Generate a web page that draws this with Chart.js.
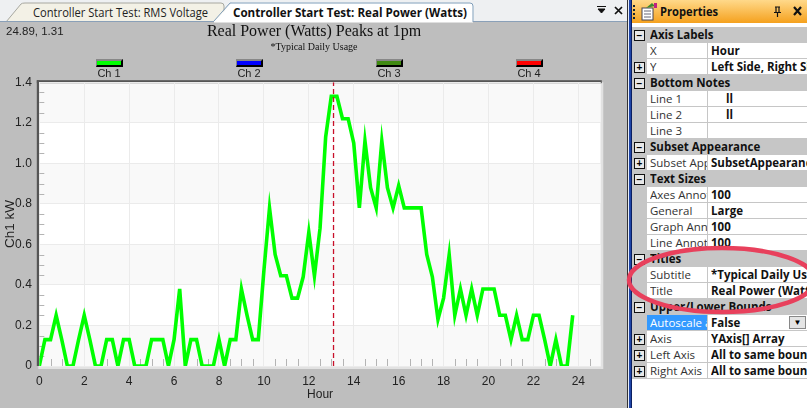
<!DOCTYPE html>
<html><head><meta charset="utf-8">
<script src="https://cdn.jsdelivr.net/npm/chart.js@4"></script>
<style>
html,body{margin:0;padding:0;width:807px;height:408px;overflow:hidden;background:#bebebe;font-family:"Open Sans",sans-serif}
.abs{position:absolute;white-space:nowrap}
#tabstrip{left:0;top:0;width:627px;height:22px;background:#eef0f2}
#chartwrap{position:absolute;left:0;top:22px;width:628px;height:386px}
.sw{position:absolute;top:59px;height:4px;width:24px;border:1px solid;border-color:#888 #000 #000 #888;border-width:2px 2px 2px 1px}
.lg{position:absolute;top:67px;font:11px "Liberation Sans";color:#222;text-align:center;width:40px}
.rowtxt{position:absolute;font-size:11.5px;line-height:16px;white-space:nowrap;overflow:hidden;color:#333}
.val{font-weight:700;color:#111}
.box{position:absolute;left:634px;width:9px;height:9px;border:1px solid #111;background:#e8e8e8;font:700 10px/9px "Liberation Sans";text-align:center;color:#000}
</style></head><body>
<div class="abs" id="tabstrip"></div>
<svg class="abs" style="left:0;top:0" width="627" height="23">
<path d="M6 22 L21 4 Q22 3 25 3 L221 3 Q224 3 224 6 L224 13 L214 22" fill="#f3f1e6" stroke="#a8a8a0"/>
<path d="M214 22 L232 3 L470 3 Q473 3 473 6 L473 22 Z" fill="#fff" stroke="#fff"/>
<path d="M214 21 L230 3 L470 3 Q473 3 473 6 L473 22" fill="none" stroke="#7f9db9"/>
<path d="M0 21.5 L214 21.5 M473 21.5 L627 21.5" stroke="#8aa0b8"/>
</svg>
<div class="abs" style="left:33px;top:4px;font-size:12px;line-height:17px;color:#222;transform:scaleX(.93);transform-origin:left">Controller Start Test: RMS Voltage</div>
<div class="abs" style="left:233px;top:4px;font-size:12px;line-height:17px;font-weight:700;color:#111;transform:scaleX(.967);transform-origin:left">Controller Start Test: Real Power (Watts)</div>
<svg class="abs" style="left:595px;top:5px" width="30" height="12">
<path d="M2 1.5h9M3 4h7l-3.5 4z" stroke="#111" fill="#111"/>
<path d="M20 2l7 7M27 2l-7 7" stroke="#111" stroke-width="1.7"/>
</svg>
<div id="chartwrap"><canvas id="c" width="628" height="386" style="width:628px;height:386px;display:block"></canvas></div>
<div class="abs" style="left:6px;top:24px;font:11.5px/14px 'Liberation Sans';color:#222">24.89, 1.31</div>
<div id="legend"></div>
<div class="abs" style="left:627px;top:0;width:1px;height:408px;background:#333"></div>
<div class="abs" style="left:628px;top:0;width:1px;height:408px;background:#e8eef8"></div>
<div class="abs" style="left:629px;top:0;width:2px;height:408px;background:#1f45a8"></div>
<div class="abs" style="left:631px;top:0;width:1px;height:408px;background:#0b1f60"></div>
<div class="abs" style="left:632px;top:0;width:175px;height:408px;background:#fff"></div>
<div class="abs" style="left:632px;top:0;width:175px;height:23px;background:linear-gradient(#ffd98a,#f5a11e)"></div>
<svg class="abs" style="left:632px;top:2px" width="28" height="20">
<path d="M2 3v14" stroke="#123" stroke-width="2" stroke-dasharray="2 2"/>
<rect x="10" y="6" width="11" height="12" fill="#fff" stroke="#445"/><path d="M12 9h7M12 12h7M12 15h7" stroke="#667"/>
<path d="M14 6l6-5 3 3z" fill="#3a8a30"/><rect x="22" y="1" width="3" height="5" fill="#c02080"/>
</svg>
<div class="abs" style="left:660px;top:3px;font-size:12px;line-height:17px;font-weight:700;color:#111;transform:scaleX(.93);transform-origin:left">Properties</div>
<svg class="abs" style="left:770px;top:5px" width="36" height="14">
<path d="M5 2h5M6 2v5M9 2v5M4 7.5h7M7.5 8v4" stroke="#111" stroke-width="1.2" fill="none"/>
<path d="M24 2l7 8M31 2l-7 8" stroke="#111" stroke-width="2.2"/>
</svg>
<div id="grid"></div>
<svg class="abs" style="left:0;top:0;pointer-events:none" width="807" height="408">
<ellipse cx="722" cy="280" rx="93" ry="32" fill="none" stroke="#e8405c" stroke-width="4.5"/>
</svg>
<script>
const hours = [0,0.25,0.5,0.75,1,1.25,1.5,1.75,2,2.25,2.5,2.75,3,3.25,3.5,3.75,4,4.25,4.5,4.75,5,5.25,5.5,5.75,6,6.25,6.5,6.75,7,7.25,7.5,7.75,8,8.25,8.5,8.75,9,9.25,9.5,9.75,10,10.25,10.5,10.75,11,11.25,11.5,11.75,12,12.25,12.5,12.75,13,13.25,13.5,13.75,14,14.25,14.5,14.75,15,15.25,15.5,15.75,16,16.25,16.5,16.75,17,17.25,17.5,17.75,18,18.25,18.5,18.75,19,19.25,19.5,19.75,20,20.25,20.5,20.75,21,21.25,21.5,21.75,22,22.25,22.5,22.75,23,23.25,23.5,23.75];
const ch1kW = [0,0.13,0.13,0.25,0.13,0,0,0.13,0.25,0.13,0,0,0.13,0.13,0,0.13,0.13,0,0,0,0.13,0.13,0.13,0,0.13,0.38,0,0.13,0.13,0,0,0,0.13,0,0.13,0.13,0.38,0.25,0.13,0.13,0.47,0.78,0.55,0.445,0.445,0.335,0.335,0.44,0.66,0.445,0.68,1.13,1.33,1.33,1.22,1.22,1.1,0.78,1.11,0.88,0.78,1.11,0.88,0.78,0.89,0.78,0.78,0.78,0.78,0.55,0.44,0.23,0.335,0.55,0.25,0.38,0.25,0.38,0.25,0.38,0.38,0.38,0.25,0.25,0.13,0.25,0.13,0.13,0.25,0.25,0.13,0,0.13,0,0,0.25];
const seriesNames = ["Ch 1","Ch 2","Ch 3","Ch 4"];
const seriesColors = ["#00ff00","#0000ff","#408a12","#ff0000"];
const legendCenters = [109,249,389,529];
const cursorHour = [13.1,13.1];
const cursorValue = [0,1.4];
const xMinor = [0.5,1,1.5,2.5,3,3.5,4.5,5,5.5,6.5,7,7.5,8.5,9,9.5,10.5,11,11.5,12.5,13,13.5,14.5,15,15.5,16.5,17,17.5,18.5,19,19.5,20.5,21,21.5,22.5,23,23.5,24.5];
const yMinor = [0.05,0.1,0.15,0.25,0.3,0.35,0.45,0.5,0.55,0.65,0.7,0.75,0.85,0.9,0.95,1.05,1.1,1.15,1.25,1.3,1.35];
const propRows = [
 ["h","Axis Labels"],["r","X","Hour",0],["r","Y","Left Side, Right Side",1],
 ["h","Bottom Notes"],["r","Line 1","     ll",0],["r","Line 2","     ll",0],["r","Line 3","",0],
 ["h","Subset Appearance"],["r","Subset Appearance","SubsetAppearance",1],
 ["h","Text Sizes"],["r","Axes Annotation","100",0],["r","General","Large",0],["r","Graph Annotation","100",0],["r","Line Annotation","100",0],
 ["h","Titles"],["r","Subtitle","*Typical Daily Usage",0],["r","Title","Real Power (Watts) Peaks",0],
 ["h","Upper/Lower Bounds"],["s","Autoscale all","False",0],["r","Axis","YAxis[] Array",1],["r","Left Axis","All to same bounds",1],["r","Right Axis","All to same bounds",1]
];

// legend
const lg = document.getElementById('legend');
seriesNames.forEach((n,i)=>{
  lg.insertAdjacentHTML('beforeend',`<div class="sw" style="left:${legendCenters[i]-13}px;background:${seriesColors[i]}"></div><div class="lg" style="left:${legendCenters[i]-20}px">${n}</div>`);
});
// property grid
const g = document.getElementById('grid');
let html = '', y0 = 27, rh = 16;
propRows.forEach((r,i)=>{
  const y = y0 + i*rh, h = rh, t = y;
  html += `<div class="abs" style="left:632px;top:${t}px;width:175px;height:${h}px;background:#c6c6c6"></div>`;
  if(r[0]==='h'){
    html += `<div class="box" style="top:${t+3}px">−</div>`;
    html += `<div class="rowtxt" style="left:650px;top:${t}px;font-weight:700;color:#111;width:156px">${r[1]}</div>`;
  } else {
    const sel = r[0]==='s';
    html += `<div class="abs" style="left:647px;top:${t}px;width:60px;height:${h-1}px;background:${sel?'#3399ff':'#fff'}"></div>`;
    html += `<div class="abs" style="left:708px;top:${t}px;width:99px;height:${h-1}px;background:#fff"></div>`;
    html += `<div class="rowtxt" style="left:650px;top:${t}px;width:57px;color:${sel?'#fff':'#333'}">${r[1]}</div>`;
    html += `<div class="rowtxt val" style="left:711px;top:${t}px;width:96px">${r[2].replace(/ /g,'&nbsp;')}</div>`;
    if(r[3]) html += `<div class="box" style="top:${t+3}px">+</div>`;
    if(sel) html += `<div class="abs" style="left:789px;top:${t+1}px;width:17px;height:13px;background:#e4e4e4;border:1px solid #888;box-sizing:border-box;text-align:center;font:8px/11px 'Liberation Sans'">▼</div>`;
  }
});
g.innerHTML = html;

const decor = {
  id:'decor',
  beforeDraw(ch){
    const c=ch.ctx,a=ch.chartArea,ys=ch.scales.y;
    const ticks=ys.ticks.map(t=>t.value);
    c.save();
    c.fillStyle='#ffffff';c.fillRect(a.left,a.top,a.right-a.left,a.bottom-a.top);
    c.fillStyle='#f9f9f9';
    for(let i=0;i<ticks.length-1;i+=2){
      const y1=ys.getPixelForValue(ticks[i]),y2=ys.getPixelForValue(ticks[i+1]);
      c.fillRect(a.left,y2,a.right-a.left,y1-y2);
    }
    c.fillStyle='#e2e2e2';
    c.fillRect(a.left-1,a.bottom,a.right-a.left+3,3);
    c.fillRect(a.right,a.top,2.5,a.bottom-a.top+3);
    c.fillStyle='#555555';
    c.fillRect(a.left-2.5,a.top-2,3,a.bottom-a.top+2);
    c.fillRect(a.left-2.5,a.top-2,a.right-a.left+3.5,3);
    c.restore();
  },
  beforeDatasetsDraw(ch){
    const c=ch.ctx,a=ch.chartArea,xs=ch.scales.x,ys=ch.scales.y;
    c.save();c.strokeStyle='#b4b4b4';c.lineWidth=1;c.beginPath();
    xMinor.forEach(v=>{const x=Math.round(xs.getPixelForValue(v))+.5;c.moveTo(x,a.bottom);c.lineTo(x,a.bottom-7);});
    yMinor.forEach(v=>{const y=Math.round(ys.getPixelForValue(v))+.5;c.moveTo(a.left,y);c.lineTo(a.left+5,y);});
    c.stroke();c.restore();
  }
};

new Chart(document.getElementById('c'),{
  type:'line',
  data:{datasets:[
    {label:seriesNames[0],data:hours.map((h,i)=>({x:h,y:ch1kW[i]})),borderColor:seriesColors[0],borderWidth:3.6,pointRadius:0,tension:0,order:2},
    {label:seriesNames[1],data:[],borderColor:seriesColors[1]},
    {label:seriesNames[2],data:[],borderColor:seriesColors[2]},
    {label:seriesNames[3],data:[],borderColor:seriesColors[3]},
    {label:'Cursor',data:cursorHour.map((h,i)=>({x:h,y:cursorValue[i]})),borderColor:'#c8102a',borderWidth:1.3,borderDash:[5,3],pointRadius:0,order:1}
  ]},
  options:{
    responsive:false,animation:false,devicePixelRatio:1,
    layout:{padding:{left:0,right:0,top:0,bottom:0}},
    plugins:{
      legend:{display:false},tooltip:{enabled:false},
      title:{display:true,text:'Real Power (Watts) Peaks at 1pm',color:'#111',font:{family:'Liberation Serif',size:16,weight:'normal',lineHeight:1.2},padding:{top:0,bottom:0}},
      subtitle:{display:true,text:'*Typical Daily Usage',color:'#111',font:{family:'Liberation Serif',size:10,weight:'normal',lineHeight:1.2},padding:{top:0,bottom:29}}
    },
    scales:{
      x:{type:'linear',min:0,max:25,
        afterFit(s){s.height=42;},
        border:{display:false},
        grid:{color:'#ebebeb',lineWidth:1,drawTicks:false},
        ticks:{stepSize:2,includeBounds:false,maxRotation:0,autoSkip:false,padding:8,color:'#222',font:{family:'Liberation Sans',size:12},callback:v=>String(v)},
        title:{display:true,text:'Hour',color:'#222',font:{family:'Liberation Sans',size:12},padding:{top:0,bottom:6}}
      },
      y:{type:'linear',min:0,max:1.4,
        afterFit(s){s.width=39.3;},
        border:{display:false},
        grid:{color:'#ebebeb',lineWidth:1,drawTicks:false},
        ticks:{stepSize:0.2,padding:7.5,color:'#222',font:{family:'Liberation Sans',size:12},callback:v=>v===0?'0':v.toFixed(1)},
        title:{display:true,text:'Ch1 kW',color:'#222',font:{family:'Liberation Sans',size:13.5},padding:{top:2,bottom:0}}
      },
      gutter:{type:'linear',position:'right',min:0,max:1,
        afterFit(s){s.width=27.2;},
        border:{display:false},
        grid:{display:false},
        ticks:{display:false},
        title:{display:false}
      }
    }
  },
  plugins:[decor]
});
</script>
</body></html>
